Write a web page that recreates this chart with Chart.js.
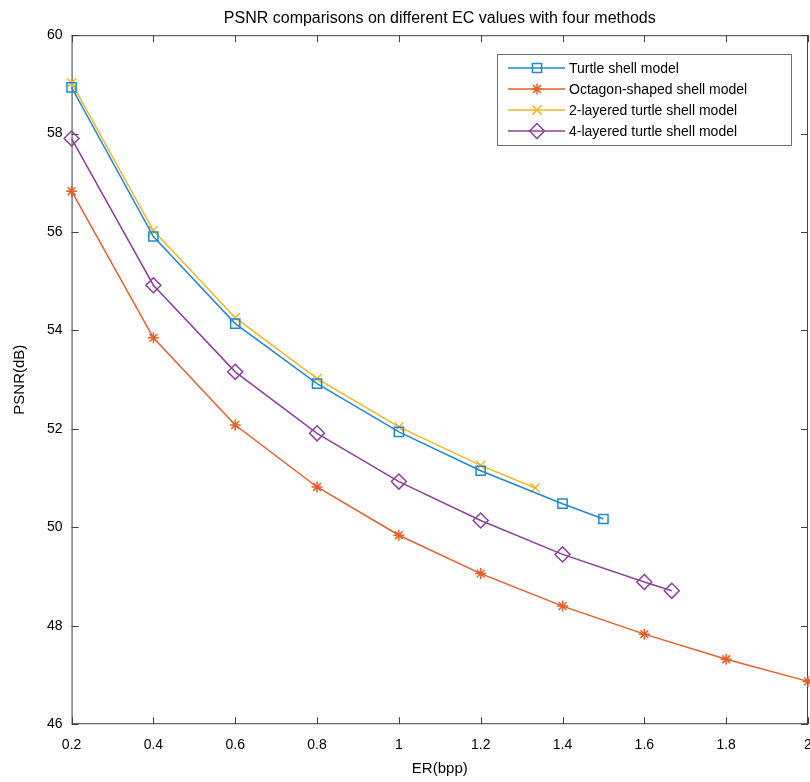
<!DOCTYPE html>
<html>
<head>
<meta charset="utf-8">
<script src="https://cdn.jsdelivr.net/npm/chart.js@4/dist/chart.umd.min.js"></script>
<style>
  body { margin: 0; background: #fff; overflow: hidden; }
  #wrap { width: 810px; height: 782px; overflow: hidden; }
</style>
</head>
<body>
<div id="wrap"><canvas id="myChart" width="817" height="782"></canvas></div>
<script>
// values
var turtleX = [0.2, 0.4, 0.6, 0.8, 1.0, 1.2, 1.4, 1.5];
var turtleY = [58.94, 55.91, 54.14, 52.92, 51.94, 51.15, 50.48, 50.17];

var octagonX = [0.2, 0.4, 0.6, 0.8, 1.0, 1.2, 1.4, 1.6, 1.8, 2.0];
var octagonY = [56.83, 53.85, 52.08, 50.82, 49.84, 49.06, 48.40, 47.83, 47.32, 46.87];

var twoLayerX = [0.2, 0.4, 0.6, 0.8, 1.0, 1.2, 1.333];
var twoLayerY = [59.03, 56.03, 54.26, 53.02, 52.04, 51.26, 50.80];

var fourLayerX = [0.2, 0.4, 0.6, 0.8, 1.0, 1.2, 1.4, 1.6, 1.667];
var fourLayerY = [57.90, 54.92, 53.16, 51.91, 50.93, 50.14, 49.45, 48.89, 48.71];

var xTicks = [0.2, 0.4, 0.6, 0.8, 1, 1.2, 1.4, 1.6, 1.8, 2];
var yTicks = [46, 48, 50, 52, 54, 56, 58, 60];

function pts(xs, ys) {
  return xs.map(function (x, i) { return { x: x, y: ys[i] }; });
}

var FONT = "'Liberation Sans', Arial, Helvetica, sans-serif";
var AXIS = '#404040';

// box round the plot and inward tick marks, matlab style
var boxPlugin = {
  id: 'box',
  beforeDatasetsDraw: function (chart) {
    var c = chart.ctx, a = chart.chartArea;
    var xs = chart.scales.x, ys = chart.scales.y;
    c.save();
    c.strokeStyle = AXIS;
    c.lineWidth = 1;
    c.strokeRect(a.left + 0.5, a.top + 0.5, a.right - a.left - 1, a.bottom - a.top - 1);
    c.beginPath();
    xTicks.forEach(function (v) {
      var px = Math.round(xs.getPixelForValue(v)) + 0.5;
      c.moveTo(px, a.bottom); c.lineTo(px, a.bottom - 7);
      c.moveTo(px, a.top); c.lineTo(px, a.top + 7);
    });
    yTicks.forEach(function (v) {
      var py = Math.round(ys.getPixelForValue(v)) + 0.5;
      c.moveTo(a.left, py); c.lineTo(a.left + 7, py);
      c.moveTo(a.right, py); c.lineTo(a.right - 7, py);
    });
    c.stroke();
    c.restore();
  },
  afterDraw: function (chart) {
    // legend box in the upper right corner
    var c = chart.ctx;
    var bx = 497, by = 54, bw = 294, bh = 91;
    c.save();
    c.fillStyle = '#fff';
    c.fillRect(bx, by, bw, bh);
    c.strokeStyle = '#6e6e6e';
    c.lineWidth = 1;
    c.strokeRect(bx + 0.5, by + 0.5, bw, bh);
    c.font = '14px ' + FONT;
    c.textBaseline = 'middle';
    chart.data.datasets.forEach(function (ds, i) {
      var y = 68 + i * 21;
      c.strokeStyle = ds.borderColor;
      c.lineWidth = 1.5;
      c.beginPath();
      c.moveTo(508, y); c.lineTo(565, y);
      c.stroke();
      c.fillStyle = 'rgba(0,0,0,0)';
      Chart.helpers.drawPoint(c, {
        pointStyle: ds.pointStyle,
        radius: ds.pointRadius,
        borderWidth: ds.pointBorderWidth,
        rotation: 0
      }, 537, y);
      c.fillStyle = '#000';
      c.fillText(ds.label, 569, y + 1);
    });
    c.restore();
  }
};

function series(label, color, data, style, r) {
  return {
    label: label,
    data: data,
    borderColor: color,
    backgroundColor: 'rgba(0,0,0,0)',
    pointBorderColor: color,
    pointBackgroundColor: 'rgba(0,0,0,0)',
    pointStyle: style,
    pointRadius: r,
    pointHoverRadius: r,
    pointBorderWidth: 1.5,
    borderWidth: 1.5,
    tension: 0,
    fill: false,
    clip: false
  };
}

var ctx = document.getElementById('myChart').getContext('2d');
var mychart = new Chart(ctx, {
  type: 'line',
  data: {
    datasets: [
      series('Turtle shell model', '#1f88d0', pts(turtleX, turtleY), 'rect', 6.5),
      series('Octagon-shaped shell model', '#e2602a', pts(octagonX, octagonY), 'star', 5.5),
      series('2-layered turtle shell model', '#f0b62c', pts(twoLayerX, twoLayerY), 'crossRot', 6.5),
      series('4-layered turtle shell model', '#8e3f9e', pts(fourLayerX, fourLayerY), 'rectRot', 7.5)
    ]
  },
  options: {
    responsive: false,
    animation: false,
    layout: { padding: { left: 5, right: 0, top: 0, bottom: 2 } },
    plugins: {
      legend: { display: false },
      tooltip: { enabled: false },
      title: {
        display: true,
        fullSize: false,
        text: 'PSNR comparisons on different EC values with four methods',
        color: '#000',
        font: { family: FONT, size: 16, weight: 'normal' },
        padding: { top: 9, bottom: 7 }
      }
    },
    scales: {
      x: {
        type: 'linear',
        min: 0.2,
        max: 2,
        afterBuildTicks: function (s) { s.ticks = xTicks.map(function (v) { return { value: v }; }); },
        afterFit: function (s) { s.paddingRight = 0; },
        grid: { display: false, drawTicks: false },
        border: { display: false },
        ticks: {
          color: '#000',
          padding: 13,
          font: { family: FONT, size: 14 },
          callback: function (v) { return String(Math.round(v * 10) / 10); }
        },
        title: {
          display: true,
          text: 'ER(bpp)',
          color: '#000',
          font: { family: FONT, size: 15 },
          padding: { top: -7, bottom: 2 }
        }
      },
      y: {
        min: 46,
        max: 60,
        afterBuildTicks: function (s) { s.ticks = yTicks.map(function (v) { return { value: v }; }); },
        grid: { display: false, drawTicks: false },
        border: { display: false },
        ticks: {
          color: '#000',
          padding: 9,
          font: { family: FONT, size: 14 }
        },
        title: {
          display: true,
          text: 'PSNR(dB)',
          color: '#000',
          font: { family: FONT, size: 15 },
          padding: { top: 6, bottom: 9 }
        }
      }
    }
  },
  plugins: [boxPlugin]
});
</script>
</body>
</html>
